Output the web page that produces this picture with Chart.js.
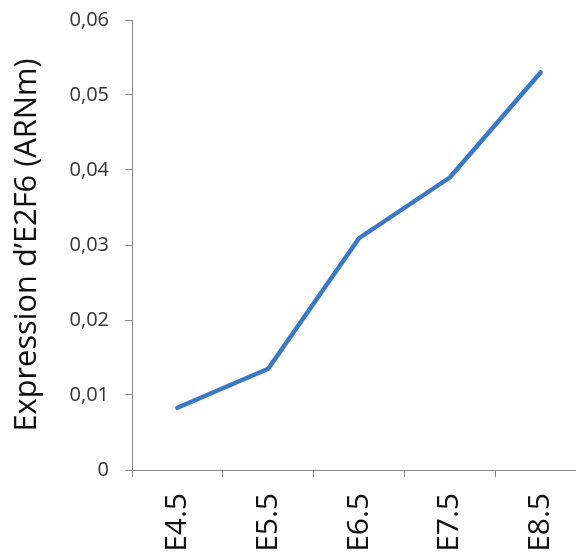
<!DOCTYPE html>
<html lang="fr">
<head>
  <meta charset="utf-8">
  <title>Expression d'E2F6</title>
  <script src="https://cdn.jsdelivr.net/npm/chart.js@4.4.1/dist/chart.umd.min.js"></script>
  <style>
    html, body { margin: 0; padding: 0; background: #fff; overflow: hidden; }
    #wrap { width: 586px; height: 553px; }
  </style>
</head>
<body>
  <div id="wrap"><canvas id="chart" width="586" height="553"></canvas></div>
  <script>
    // data
    const stages = ['E4.5', 'E5.5', 'E6.5', 'E7.5', 'E8.5'];
    const expression = [0.0083, 0.0135, 0.0309, 0.0390, 0.0530];
    const yTicks = [0, 0.01, 0.02, 0.03, 0.04, 0.05, 0.06];
    const yTitle = 'Expression d\u2019E2F6 (ARNm)';

    const font = "'Open Sans', 'Liberation Sans', sans-serif";
    const axisGrey = '#868686';

    new Chart(document.getElementById('chart'), {
      type: 'line',
      data: {
        labels: stages,
        datasets: [{
          data: expression,
          borderColor: '#3b79c2',
          borderWidth: 4.5,
          pointRadius: 0,
          tension: 0,
          borderCapStyle: 'round',
          borderJoinStyle: 'round'
        }]
      },
      options: {
        responsive: false,
        animation: false,
        layout: { padding: { top: 20, right: 0, bottom: 0, left: 0 } },
        plugins: { legend: { display: false }, tooltip: { enabled: false } },
        scales: {
          x: {
            offset: true,
            grid: { offset: true, drawOnChartArea: false, tickLength: 7, color: axisGrey },
            border: { color: axisGrey, width: 1 },
            ticks: {
              minRotation: 90, maxRotation: 90, padding: 16,
              color: '#111', font: { family: font, size: 30 }
            },
            afterFit: s => { s.height = 83; s.paddingLeft = 0; s.paddingRight = 0; }
          },
          y: {
            min: 0, max: 0.06,
            afterBuildTicks: s => { s.ticks = yTicks.map(v => ({ value: v })); },
            grid: { drawOnChartArea: false, tickLength: 7, color: axisGrey },
            border: { color: axisGrey, width: 1 },
            ticks: {
              padding: 16, color: '#333',
              font: { family: font, size: 20 },
              callback: v => v === 0 ? '0' : v.toFixed(2).replace('.', ',')
            },
            title: {
              display: true, text: yTitle, color: '#111',
              font: { family: font, size: 30.8 }, padding: { top: 9, bottom: 4 }
            },
            afterFit: s => { s.width = 132; s.paddingTop = 0; s.paddingBottom = 0; }
          }
        }
      }
    });
  </script>
</body>
</html>
